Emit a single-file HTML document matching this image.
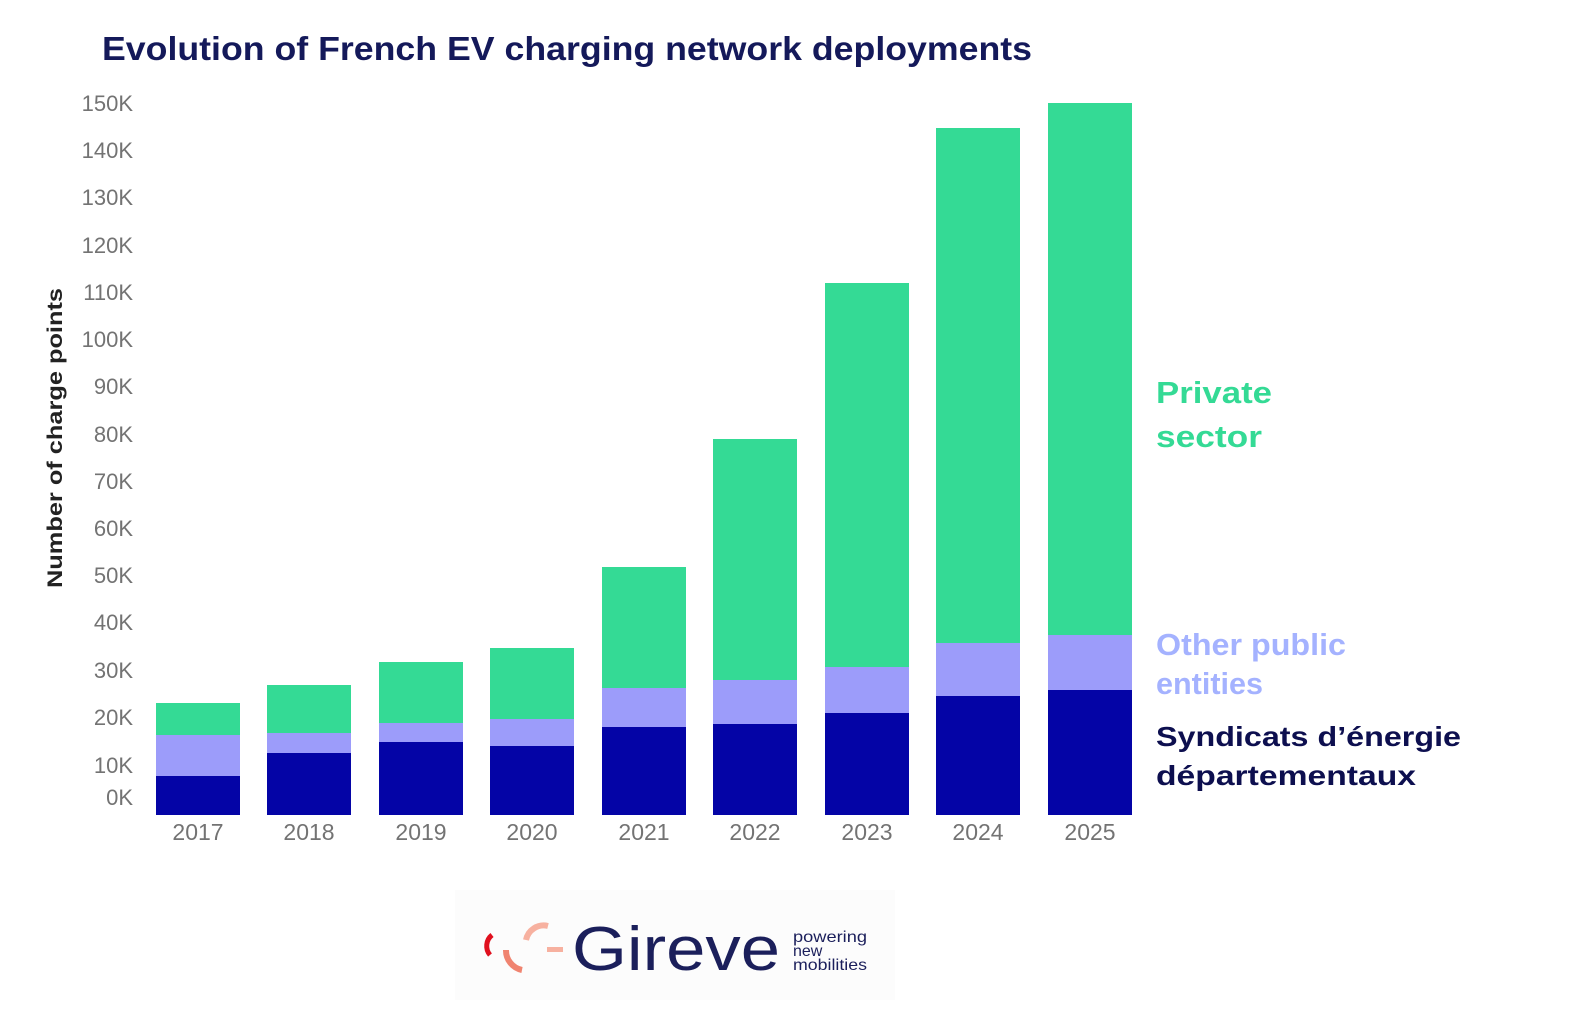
<!DOCTYPE html>
<html><head><meta charset="utf-8"><style>
html,body{margin:0;padding:0;background:#fff;}
body{width:1575px;height:1004px;overflow:hidden;}
</style></head><body>
<svg width="1575" height="1004" viewBox="0 0 1575 1004" xmlns="http://www.w3.org/2000/svg" font-family="Liberation Sans, sans-serif">
<rect width="1575" height="1004" fill="#fff"/>
<text x="102" y="60" font-size="33" font-weight="bold" fill="#14195a" textLength="930" lengthAdjust="spacingAndGlyphs">Evolution of French EV charging network deployments</text>
<g font-size="22" fill="#737373" text-anchor="end">
<text x="133" y="111">150K</text><text x="133" y="158">140K</text><text x="133" y="205">130K</text>
<text x="133" y="253">120K</text><text x="133" y="300">110K</text><text x="133" y="347">100K</text>
<text x="133" y="394">90K</text><text x="133" y="442">80K</text><text x="133" y="489">70K</text>
<text x="133" y="536">60K</text><text x="133" y="583">50K</text><text x="133" y="630">40K</text>
<text x="133" y="678">30K</text><text x="133" y="725">20K</text><text x="133" y="773">10K</text>
<text x="133" y="805">0K</text>
</g>
<text transform="translate(62,438) rotate(-90)" text-anchor="middle" font-size="21" font-weight="bold" fill="#222" textLength="300" lengthAdjust="spacingAndGlyphs">Number of charge points</text>
<g>
<rect x="156" y="703" width="84" height="112" fill="#34da95"/><rect x="156" y="735" width="84" height="80" fill="#9c9cfa"/><rect x="156" y="776" width="84" height="39" fill="#0404a6"/>
<rect x="267" y="685" width="84" height="130" fill="#34da95"/><rect x="267" y="733" width="84" height="82" fill="#9c9cfa"/><rect x="267" y="753" width="84" height="62" fill="#0404a6"/>
<rect x="379" y="662" width="84" height="153" fill="#34da95"/><rect x="379" y="723" width="84" height="92" fill="#9c9cfa"/><rect x="379" y="742" width="84" height="73" fill="#0404a6"/>
<rect x="490" y="648" width="84" height="167" fill="#34da95"/><rect x="490" y="719" width="84" height="96" fill="#9c9cfa"/><rect x="490" y="746" width="84" height="69" fill="#0404a6"/>
<rect x="602" y="567" width="84" height="248" fill="#34da95"/><rect x="602" y="688" width="84" height="127" fill="#9c9cfa"/><rect x="602" y="727" width="84" height="88" fill="#0404a6"/>
<rect x="713" y="439" width="84" height="376" fill="#34da95"/><rect x="713" y="680" width="84" height="135" fill="#9c9cfa"/><rect x="713" y="724" width="84" height="91" fill="#0404a6"/>
<rect x="825" y="283" width="84" height="532" fill="#34da95"/><rect x="825" y="667" width="84" height="148" fill="#9c9cfa"/><rect x="825" y="713" width="84" height="102" fill="#0404a6"/>
<rect x="936" y="128" width="84" height="687" fill="#34da95"/><rect x="936" y="643" width="84" height="172" fill="#9c9cfa"/><rect x="936" y="696" width="84" height="119" fill="#0404a6"/>
<rect x="1048" y="103" width="84" height="712" fill="#34da95"/><rect x="1048" y="635" width="84" height="180" fill="#9c9cfa"/><rect x="1048" y="690" width="84" height="125" fill="#0404a6"/>
</g>
<g font-size="23" fill="#737373" text-anchor="middle">
<text x="198" y="840">2017</text><text x="309" y="840">2018</text><text x="421" y="840">2019</text>
<text x="532" y="840">2020</text><text x="644" y="840">2021</text><text x="755" y="840">2022</text>
<text x="867" y="840">2023</text><text x="978" y="840">2024</text><text x="1090" y="840">2025</text>
</g>
<g font-size="31" font-weight="bold" lengthAdjust="spacingAndGlyphs">
<text x="1156" y="403" fill="#34da95" textLength="116" lengthAdjust="spacingAndGlyphs">Private</text><text x="1156" y="447" fill="#34da95" textLength="106" lengthAdjust="spacingAndGlyphs">sector</text>
<text x="1156" y="655" fill="#a4b2ff" textLength="190" lengthAdjust="spacingAndGlyphs">Other public</text><text x="1156" y="694" fill="#a4b2ff" textLength="107" lengthAdjust="spacingAndGlyphs">entities</text>
</g>
<g font-size="28" font-weight="bold" fill="#0d0f4f">
<text x="1156" y="746" textLength="305" lengthAdjust="spacingAndGlyphs">Syndicats d’énergie</text><text x="1156" y="785" textLength="260" lengthAdjust="spacingAndGlyphs">départementaux</text>
</g>
<rect x="455" y="890" width="440" height="110" fill="#fcfcfc"/>
<path d="M492 935 A14 14 0 0 0 490 955" stroke="#e0101e" stroke-width="5" fill="none"/>
<path d="M506 950 A20 20 0 0 0 522 970" stroke="#f08470" stroke-width="6" fill="none"/>
<path d="M526 940 A18 18 0 0 1 548 926" stroke="#f7b1a0" stroke-width="6" fill="none"/>
<rect x="547" y="947" width="16" height="5" fill="#f7b1a0"/>
<text x="572" y="970" font-size="62" fill="#1b1f5b" textLength="208" lengthAdjust="spacingAndGlyphs">Gireve</text>
<g font-size="16" fill="#1b1f5b"><text x="793" y="942" textLength="74" lengthAdjust="spacingAndGlyphs">powering</text><text x="793" y="956">new</text><text x="793" y="970" textLength="74" lengthAdjust="spacingAndGlyphs">mobilities</text></g>
</svg>
</body></html>
